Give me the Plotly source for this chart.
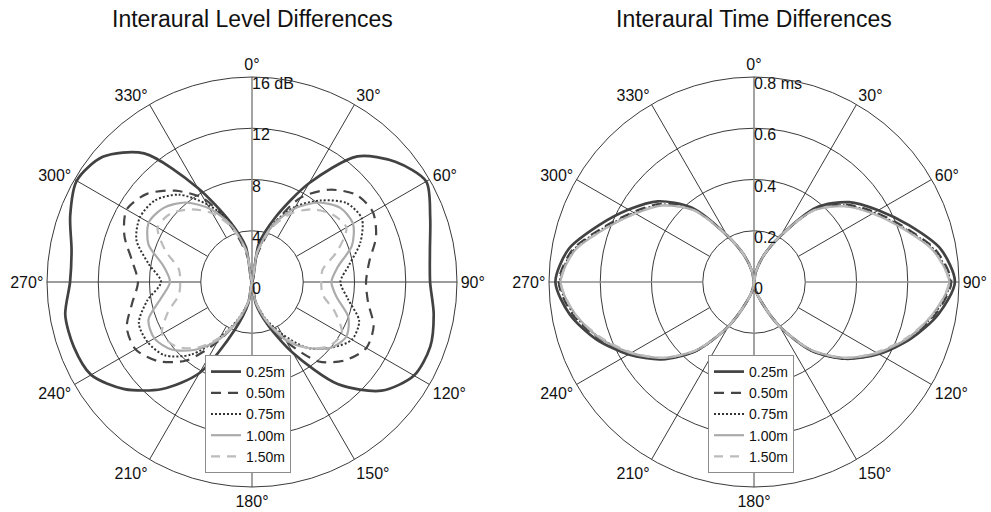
import plotly.graph_objects as go

# Azimuth in degrees (0 = straight ahead, clockwise)
AZIMUTH = list(range(0, 361, 10))
DISTANCES = ["0.25m", "0.50m", "0.75m", "1.00m", "1.50m"]

# Interaural level differences (dB) per source distance
ILD_025 = [0, 3.0, 5.4, 8.9, 12.8, 14.6, 15.7, 14.8, 14.1, 13.9, 14.4, 14.8, 14.6, 13.2, 10.4, 6.4, 3.5, 1.7,
           0, 1.7, 4.0, 8.2, 10.9, 13.0, 14.5, 14.8, 14.8, 14.2, 14.3, 15.1, 15.8, 15.2, 13.1, 8.5, 5.0, 2.8, 0]
ILD_050 = [0, 2.0, 4.6, 7.6, 9.4, 10.6, 10.9, 10.3, 9.3, 8.9, 9.2, 10.1, 10.3, 9.5, 8.1, 5.4, 3.2, 1.5,
           0, 1.5, 3.2, 5.4, 8.0, 9.6, 10.5, 10.4, 9.5, 8.9, 9.5, 10.6, 11.3, 10.7, 9.3, 7.5, 4.5, 2.0, 0]
ILD_075 = [0, 2.2, 4.8, 6.8, 8.3, 9.6, 9.9, 9.0, 7.7, 6.9, 7.6, 8.9, 9.0, 8.0, 6.7, 4.7, 3.0, 1.5,
           0, 1.5, 3.0, 5.0, 7.4, 8.9, 9.4, 9.4, 8.3, 7.1, 8.2, 9.6, 10.1, 9.9, 8.9, 7.0, 5.0, 2.3, 0]
ILD_100 = [0, 2.4, 4.7, 6.6, 8.1, 9.0, 9.1, 8.3, 6.8, 6.2, 6.7, 8.0, 8.5, 8.0, 6.7, 5.2, 3.2, 1.5,
           0, 1.5, 3.2, 5.2, 6.9, 8.2, 8.8, 8.6, 7.2, 6.4, 7.0, 8.6, 9.3, 9.0, 8.1, 6.6, 4.7, 2.4, 0]
ILD_150 = [0, 2.3, 4.5, 6.2, 7.4, 8.2, 8.5, 7.1, 5.6, 5.4, 5.6, 6.9, 8.1, 7.8, 6.7, 5.0, 3.1, 1.5,
           0, 1.5, 3.1, 5.0, 6.7, 7.8, 8.1, 7.0, 5.8, 5.6, 5.8, 7.2, 8.5, 8.3, 7.4, 6.2, 4.5, 2.3, 0]

# Interaural time differences (ms) per source distance
ITD_025 = [0, 0.04, 0.11, 0.21, 0.38, 0.485, 0.56, 0.645, 0.74, 0.784, 0.73, 0.65, 0.562, 0.466, 0.35, 0.20, 0.08, 0.03,
           0, 0.03, 0.08, 0.20, 0.35, 0.47, 0.565, 0.655, 0.73, 0.775, 0.735, 0.645, 0.565, 0.49, 0.38, 0.21, 0.11, 0.04, 0]
ITD_050 = [0, 0.04, 0.11, 0.21, 0.37, 0.47, 0.545, 0.625, 0.72, 0.77, 0.72, 0.645, 0.56, 0.465, 0.35, 0.20, 0.08, 0.03,
           0, 0.03, 0.08, 0.20, 0.35, 0.465, 0.56, 0.645, 0.72, 0.762, 0.72, 0.625, 0.545, 0.475, 0.37, 0.21, 0.11, 0.04, 0]
ITD_075 = [0, 0.04, 0.11, 0.21, 0.37, 0.465, 0.54, 0.62, 0.715, 0.765, 0.715, 0.64, 0.555, 0.465, 0.35, 0.20, 0.08, 0.03,
           0, 0.03, 0.08, 0.20, 0.35, 0.465, 0.555, 0.64, 0.715, 0.758, 0.715, 0.62, 0.54, 0.47, 0.37, 0.21, 0.11, 0.04, 0]
ITD_100 = [0, 0.04, 0.11, 0.21, 0.365, 0.46, 0.535, 0.615, 0.71, 0.762, 0.71, 0.64, 0.555, 0.46, 0.345, 0.20, 0.08, 0.03,
           0, 0.03, 0.08, 0.20, 0.345, 0.46, 0.555, 0.64, 0.71, 0.755, 0.71, 0.615, 0.535, 0.465, 0.365, 0.21, 0.11, 0.04, 0]
ITD_150 = [0, 0.04, 0.11, 0.21, 0.365, 0.46, 0.535, 0.615, 0.71, 0.76, 0.71, 0.635, 0.55, 0.46, 0.345, 0.20, 0.08, 0.03,
           0, 0.03, 0.08, 0.20, 0.345, 0.46, 0.55, 0.635, 0.71, 0.753, 0.71, 0.615, 0.535, 0.465, 0.365, 0.21, 0.11, 0.04, 0]

ILD_SERIES = [ILD_025, ILD_050, ILD_075, ILD_100, ILD_150]
ITD_SERIES = [ITD_025, ITD_050, ITD_075, ITD_100, ITD_150]

# Radial ticks and labels
ILD_TICKS = [0, 4, 8, 12, 16]
ILD_LABELS = ["0", "4", "8", "12", "16 dB"]
ITD_TICKS = [0, 0.2, 0.4, 0.6, 0.8]
ITD_LABELS = ["0", "0.2", "0.4", "0.6", "0.8 ms"]
ANGLE_TICKS = list(range(0, 360, 30))

FONT = "Liberation Sans, Arial, sans-serif"
GRID = "#3a3a3a"
AXIS_GRAY = "#8c8c8c"

STYLES = [
    dict(color="#424242", width=2.7, dash="solid"),
    dict(color="#454545", width=2.2, dash="10px,7px"),
    dict(color="#333333", width=2.0, dash="2px,2px"),
    dict(color="#ababab", width=2.2, dash="solid"),
    dict(color="#bcbcbc", width=2.2, dash="9px,7px"),
]

fig = go.Figure()


def add_panel(polar, legend, series, ticks, labels, gray_horizontal):
    rmax = ticks[-1]
    rin = ticks[1]
    # spokes every 30 degrees, starting at the first ring
    for ang in ANGLE_TICKS:
        if ang in (0, 180):
            continue
        horiz = ang in (90, 270)
        fig.add_trace(go.Scatterpolar(
            r=[rin, rmax], theta=[ang, ang], mode="lines", subplot=polar,
            line=dict(color=AXIS_GRAY if (horiz and gray_horizontal) else GRID,
                      width=1.6 if (horiz and gray_horizontal) else 1),
            hoverinfo="skip", showlegend=False))
    # vertical axis line through the center
    fig.add_trace(go.Scatterpolar(
        r=[rmax, 0, rmax], theta=[0, 0, 180], mode="lines", subplot=polar,
        line=dict(color=AXIS_GRAY, width=1.6), hoverinfo="skip", showlegend=False))
    # data curves
    for name, vals, st in zip(DISTANCES, series, STYLES):
        fig.add_trace(go.Scatterpolar(
            r=vals, theta=AZIMUTH, mode="lines", name=name, subplot=polar, legend=legend,
            line=dict(color=st["color"], width=st["width"], dash=st["dash"], shape="spline",
                      smoothing=0.8)))
    # radial tick labels
    fig.add_trace(go.Scatterpolar(
        r=ticks, theta=[0] * len(ticks), mode="text", text=labels, subplot=polar,
        textposition="bottom right", textfont=dict(family=FONT, size=16, color="#111"),
        hoverinfo="skip", showlegend=False))


add_panel("polar", "legend", ILD_SERIES, ILD_TICKS, ILD_LABELS, False)
add_panel("polar2", "legend2", ITD_SERIES, ITD_TICKS, ITD_LABELS, True)


def polar_layout(xdom, rng, tickvals):
    return dict(
        domain=dict(x=xdom, y=[1 - 487 / 512, 1 - 77 / 512]),
        bgcolor="white",
        angularaxis=dict(
            direction="clockwise", rotation=90,
            tickvals=ANGLE_TICKS, ticktext=[f"{a}°" for a in ANGLE_TICKS],
            showgrid=False, showline=True, linecolor=GRID, linewidth=1,
            ticks="", tickfont=dict(family=FONT, size=16, color="#111")),
        radialaxis=dict(
            range=rng, tickvals=tickvals, showticklabels=False, showline=False,
            showgrid=True, gridcolor=GRID, gridwidth=1, ticks=""),
    )


legend_style = dict(
    bgcolor="white", bordercolor="#8c8c8c", borderwidth=1,
    font=dict(family=FONT, size=14, color="#111"),
    yanchor="bottom", xanchor="left", tracegroupgap=0,
)

fig.update_layout(
    width=991, height=512,
    margin=dict(l=0, r=0, t=0, b=0),
    paper_bgcolor="white",
    font=dict(family=FONT, color="#111"),
    polar=polar_layout([47 / 991, 457 / 991], [0, 16], ILD_TICKS[1:]),
    polar2=polar_layout([549 / 991, 959 / 991], [0, 0.8], ITD_TICKS[1:]),
    legend=dict(x=205 / 991, y=1 - 473 / 512, **legend_style),
    legend2=dict(x=708 / 991, y=1 - 473 / 512, **legend_style),
    annotations=[
        dict(text="Interaural Level Differences", x=252 / 991, y=1 - 19 / 512, xref="paper", yref="paper",
             xanchor="center", yanchor="middle",
             showarrow=False, font=dict(family=FONT, size=23, color="#111")),
        dict(text="Interaural Time Differences", x=754 / 991, y=1 - 19 / 512, xref="paper", yref="paper",
             xanchor="center", yanchor="middle",
             showarrow=False, font=dict(family=FONT, size=23, color="#111")),
    ],
)

fig.write_html("out.html")
